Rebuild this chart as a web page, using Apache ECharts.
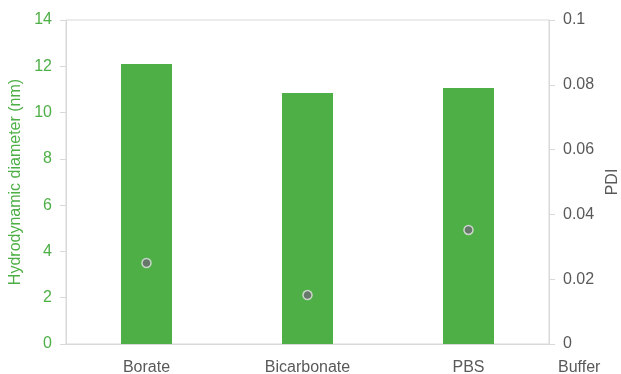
<!DOCTYPE html>
<html>
<head>
<meta charset="utf-8">
<script src="https://cdn.jsdelivr.net/npm/echarts@6/dist/echarts.min.js"></script>
<style>
html,body{margin:0;padding:0;background:#fff;}
#main{width:621px;height:374px;}
</style>
</head>
<body>
<div id="main"></div>
<script type="text/javascript">
    // data
    var buffers = ['Borate', 'Bicarbonate', 'PBS'];
    var diameter = [12.1, 10.85, 11.06];
    var pdi = [0.025, 0.0151, 0.0352];

    var green = '#4eaf46';
    var grey = '#595959';
    var line = '#d9d9d9';
    var font = '"Liberation Sans", Arial, sans-serif';

    var chart = echarts.init(document.getElementById('main'));
    var option = {
        animation: false,
        textStyle: { fontFamily: font },
        grid: {
            left: 66, right: 72, top: 20, bottom: 30,
            outerBoundsMode: 'none',
            containLabel: false,
            show: true, borderColor: line, borderWidth: 1
        },
        xAxis: {
            type: 'category',
            data: buffers,
            name: 'Buffer',
            nameLocation: 'end',
            nameGap: 9,
            nameTextStyle: { color: grey, fontSize: 16, verticalAlign: 'top', padding: [16, 0, 0, 0] },
            axisLine: { lineStyle: { color: line } },
            axisTick: { show: false },
            axisLabel: { color: grey, fontSize: 16, margin: 16 }
        },
        yAxis: [{
            type: 'value',
            min: 0, max: 14, interval: 2,
            name: 'Hydrodynamic diameter (nm)',
            nameLocation: 'middle',
            nameGap: 37,
            nameTextStyle: { color: green, fontSize: 16 },
            axisLine: { show: true, lineStyle: { color: line } },
            axisTick: { show: true, length: 6, lineStyle: { color: line } },
            axisLabel: { color: green, fontSize: 16, margin: 14 },
            splitLine: { show: false }
        }, {
            type: 'value',
            min: 0, max: 0.1, interval: 0.02,
            name: 'PDI',
            nameLocation: 'middle',
            nameRotate: 90,
            nameGap: 56,
            nameTextStyle: { color: grey, fontSize: 16 },
            axisLine: { show: true, lineStyle: { color: line } },
            axisTick: { show: true, length: 6, lineStyle: { color: line } },
            axisLabel: { color: grey, fontSize: 16, margin: 14 },
            splitLine: { show: false }
        }],
        series: [{
            name: 'Hydrodynamic diameter',
            type: 'bar',
            data: diameter,
            barWidth: '31.7%',
            itemStyle: { color: green }
        }, {
            name: 'PDI',
            type: 'scatter',
            yAxisIndex: 1,
            data: pdi,
            symbolSize: 9,
            itemStyle: { color: '#6b6a73', borderColor: '#e6e6e6', borderWidth: 1.5 }
        }]
    };
    chart.setOption(option);
</script>
</body>
</html>
